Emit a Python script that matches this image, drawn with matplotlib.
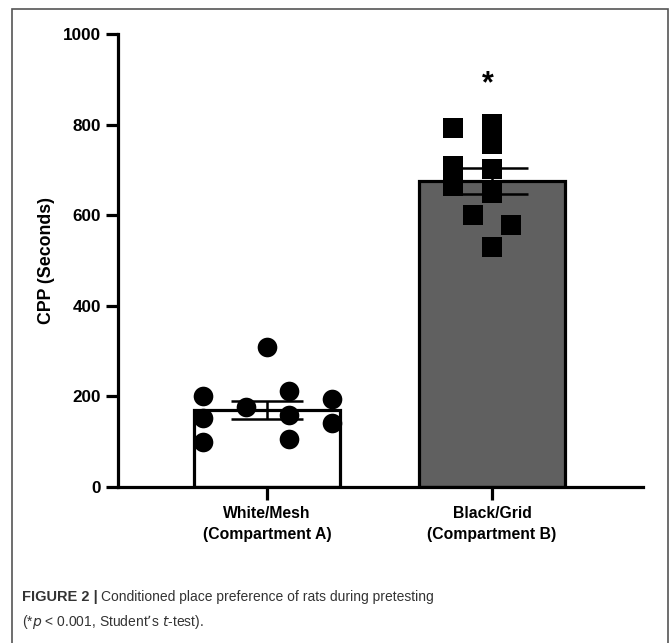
import numpy as np
import matplotlib.pyplot as plt
from matplotlib.patches import Rectangle

# data
categories = ['White/Mesh\n(Compartment A)', 'Black/Grid\n(Compartment B)']
means = [170, 676]
sems = [19, 29]
# jitter offsets from each bar centre
white_dx = [0.0, -0.286, -0.286, -0.286, -0.093, 0.099, 0.099, 0.099, 0.29, 0.29]
white_y = [310, 201, 152, 100, 176, 213, 159, 107, 194, 141]
black_dx = [-0.172, 0.0, 0.0, -0.172, -0.172, 0.0, 0.0, -0.086, 0.086, 0.0]
black_y = [792, 801, 758, 709, 665, 701, 648, 600, 578, 530]
yticks = [0, 200, 400, 600, 800, 1000]

plt.rcParams['font.family'] = ['Liberation Sans', 'DejaVu Sans']

fig = plt.figure(figsize=(6.7, 6.43), dpi=100)
ax = fig.add_axes([118 / 670, 1 - 487 / 643, (643 - 118) / 670, (487 - 34) / 643])

# bars
pos = np.arange(len(categories))
ax.bar(pos, means, width=0.65, color=['white', '#606060'], edgecolor='black',
       linewidth=2.3, zorder=1)

# individual animals
ax.scatter(pos[0] + np.array(white_dx), white_y, s=200, marker='o', color='black',
           linewidths=0, zorder=3)
ax.scatter(pos[1] + np.array(black_dx), black_y, s=190, marker='s', color='black',
           linewidths=0, zorder=3)

# mean +/- SEM
ax.errorbar(pos, means, yerr=sems, fmt='none', ecolor='black', elinewidth=1.8,
            capsize=26, capthick=1.8, zorder=4)

# significance
ax.text(pos[1] - 0.02, 888, '*', ha='center', va='center', fontsize=22, fontweight='bold')

ax.set_xlim(-0.662, 1.671)
ax.set_ylim(0, 1000)
ax.set_yticks(yticks)
ax.set_yticklabels([str(v) for v in yticks], fontsize=12.3, fontweight='bold')
ax.set_xticks(pos)
ax.set_xticklabels(categories, fontsize=11.3, fontweight='bold', linespacing=1.5)
ax.set_ylabel('CPP (Seconds)', fontsize=12.8, fontweight='bold', labelpad=6)

for side in ['top', 'right']:
    ax.spines[side].set_visible(False)
for side in ['left', 'bottom']:
    ax.spines[side].set_linewidth(2.3)
ax.tick_params(axis='both', width=2.3, length=9, pad=3)
ax.tick_params(axis='x', pad=5)

# frame around the figure panel
fig.patches.append(Rectangle((12 / 670, -0.05), (668 - 12) / 670, 1.05 - 9 / 643,
                             transform=fig.transFigure, fill=False,
                             edgecolor='#555555', linewidth=1.2))

# caption
cap_font = ['Liberation Sans Narrow', 'Liberation Sans', 'DejaVu Sans']
fig.text(22 / 670, 1 - 601 / 643, 'FIGURE 2 |', fontsize=10.5, fontweight='bold',
         color='#333333', va='baseline', family=cap_font)
fig.text(101 / 670, 1 - 601 / 643, 'Conditioned place preference of rats during pretesting',
         fontsize=10, color='#333333', va='baseline', family=cap_font)
fig.text(22 / 670, 1 - 626 / 643, r'(*$\it{p}$ < 0.001, Student’s $\it{t}$-test).',
         fontsize=10, color='#333333', va='baseline', family=cap_font)

fig.savefig('out.png', dpi=100)
